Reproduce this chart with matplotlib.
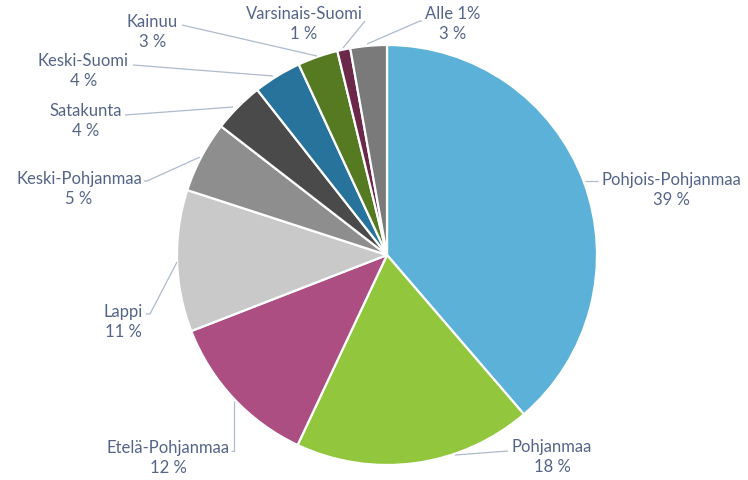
import matplotlib
matplotlib.use("Agg")
import matplotlib.pyplot as plt

# ---- data ----
categories = ["Pohjois-Pohjanmaa", "Pohjanmaa", "Etelä-Pohjanmaa", "Lappi",
              "Keski-Pohjanmaa", "Satakunta", "Keski-Suomi", "Kainuu",
              "Varsinais-Suomi", "Alle 1%"]
values = [38.7, 18.3, 12.1, 10.9, 5.5, 3.9, 3.7, 3.1, 1.0, 2.8]
pct_labels = ["39 %", "18 %", "12 %", "11 %", "5 %", "4 %", "4 %", "3 %", "1 %", "3 %"]
colors = ["#5BB1D8", "#92C63C", "#AD4E83", "#C9C9C9", "#8E8E8E",
          "#4A4A4A", "#27739C", "#567A22", "#6B2849", "#7A7A7A"]

W, H = 748, 481
CX, CY, R = 387, 256, 210

def p2d(px, py):
    return ((px - CX) / R, (CY - py) / R)

fig = plt.figure(figsize=(W / 100, H / 100), dpi=100)
ax = fig.add_axes([0, 0, 1, 1])

ax.pie(values, colors=colors, startangle=90, counterclock=False, radius=1,
       center=(0, 0), frame=True,
       wedgeprops=dict(edgecolor="white", linewidth=1.6))
ax.set_xlim(-CX / R, (W - CX) / R)
ax.set_ylim(-(H - CY) / R, CY / R)
ax.axis("off")

# label layout (pixel coords): leader polyline, text anchor, ha
layout = [
    ([(585, 182), (598, 182)], (602, 190), "left"),
    ([(455, 456), (508, 452)], (512, 457), "left"),
    ([(234, 402), (234, 452), (231, 452)], (230, 458), "right"),
    ([(177, 263), (150, 315), (146, 315)], (143, 322), "right"),
    ([(200, 158), (147, 182), (144, 182)], (142, 189), "right"),
    ([(233, 108), (125, 116)], (122, 121), "right"),
    ([(273, 77), (133, 66)], (129, 71), "right"),
    ([(317, 57), (182, 26)], (178, 32), "right"),
    ([(343, 49), (365, 22)], (304, 24), "center"),
    ([(367, 45), (420, 22), (422, 22)], (425, 24), "left"),
]

text_color = "#55658A"
line_color = "#AEBBCC"
for cat, pl, (pts, (tx, ty), ha) in zip(categories, pct_labels, layout):
    xs, ys = zip(*[p2d(*p) for p in pts])
    ax.plot(xs, ys, color=line_color, lw=0.9, solid_capstyle="butt")
    x, y = p2d(tx, ty)
    ax.text(x, y, f"{cat}\n{pl}", ha=ha, va="center", multialignment="center",
            fontsize=12, color=text_color, family=["Lato", "DejaVu Sans"],
            linespacing=1.35)

fig.savefig("out.png", dpi=100)
